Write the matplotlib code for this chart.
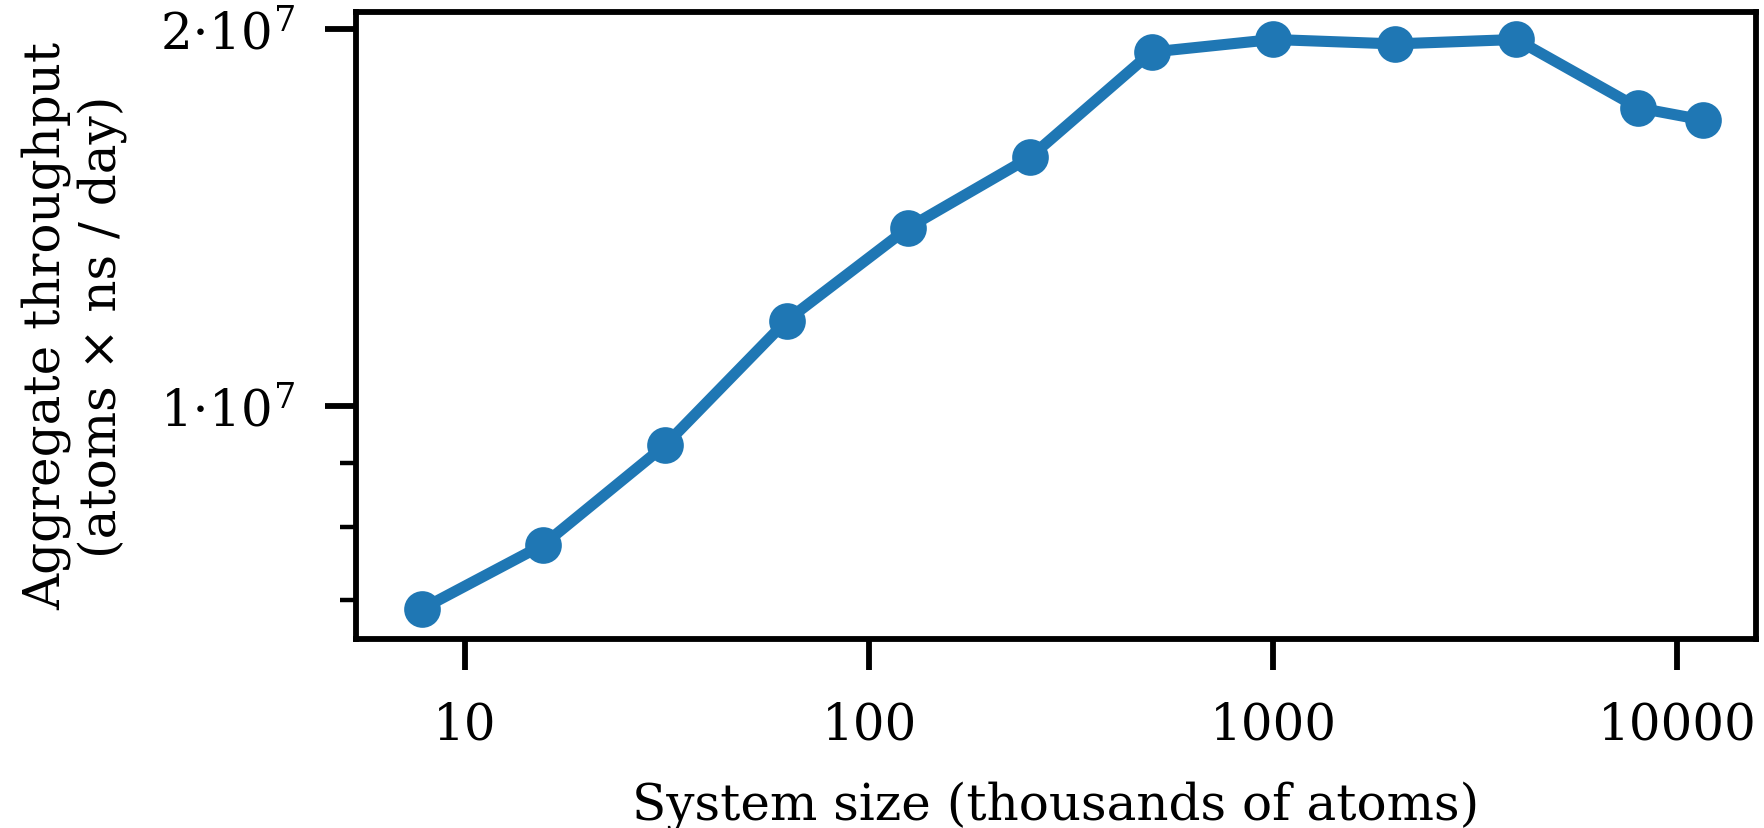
import matplotlib
matplotlib.use("Agg")
import matplotlib.pyplot as plt
from matplotlib.ticker import FixedLocator, FuncFormatter, NullFormatter

# Data (system size in thousands of atoms, aggregate throughput)
system_size = [7.8125, 15.625, 31.25, 62.5, 125, 250, 500, 1000, 2000, 4000, 8000, 11560]
throughput = [6.88e6, 7.745e6, 9.30e6, 1.170e7, 1.388e7, 1.580e7,
              1.918e7, 1.963e7, 1.947e7, 1.963e7, 1.731e7, 1.693e7]
x_ticks = [10, 100, 1000, 10000]
x_tick_labels = ["10", "100", "1000", "10000"]
y_ticks = [1e7, 2e7]
y_tick_labels = [r"$1{\cdot}10^{7}$", r"$2{\cdot}10^{7}$"]
y_minor_ticks = [7e6, 8e6, 9e6]

plt.rcParams["font.family"] = ["DejaVu Serif"]
plt.rcParams["mathtext.fontset"] = "dejavuserif"

W, H, DPI = 1764, 829, 200
fig = plt.figure(figsize=(W / DPI, H / DPI), dpi=DPI)
left, right, top, bottom = 356, 1756, 12.7, 640
ax = fig.add_axes([left / W, (H - bottom) / H, (right - left) / W, (bottom - top) / H])

ax.plot(system_size, throughput, color="#1f77b4", lw=4.0, marker="o", ms=12.2)

ax.set_xscale("log")
ax.set_yscale("log")
ax.set_xlim(5.37, 15670)
ax.set_ylim(6.51e6, 2.066e7)

ax.xaxis.set_major_locator(FixedLocator(x_ticks))
ax.xaxis.set_major_formatter(FuncFormatter(lambda v, p: x_tick_labels[x_ticks.index(v)] if v in x_ticks else ""))
ax.xaxis.set_minor_locator(FixedLocator([]))
ax.yaxis.set_major_locator(FixedLocator(y_ticks))
ax.yaxis.set_major_formatter(FuncFormatter(lambda v, p: y_tick_labels[y_ticks.index(v)] if v in y_ticks else ""))
ax.yaxis.set_minor_locator(FixedLocator(y_minor_ticks))
ax.yaxis.set_minor_formatter(NullFormatter())

for s in ax.spines.values():
    s.set_linewidth(2.1)
ax.tick_params(which="major", length=11, width=2.1, labelsize=18, pad=11)
ax.tick_params(which="minor", length=5.8, width=1.6)

ax.set_xlabel("System size (thousands of atoms)", fontsize=18, labelpad=11)
ax.set_ylabel("Aggregate throughput\n(atoms \u00d7 ns / day)", fontsize=18, labelpad=12,
              linespacing=1.15)

fig.savefig("out.png", dpi=DPI)
